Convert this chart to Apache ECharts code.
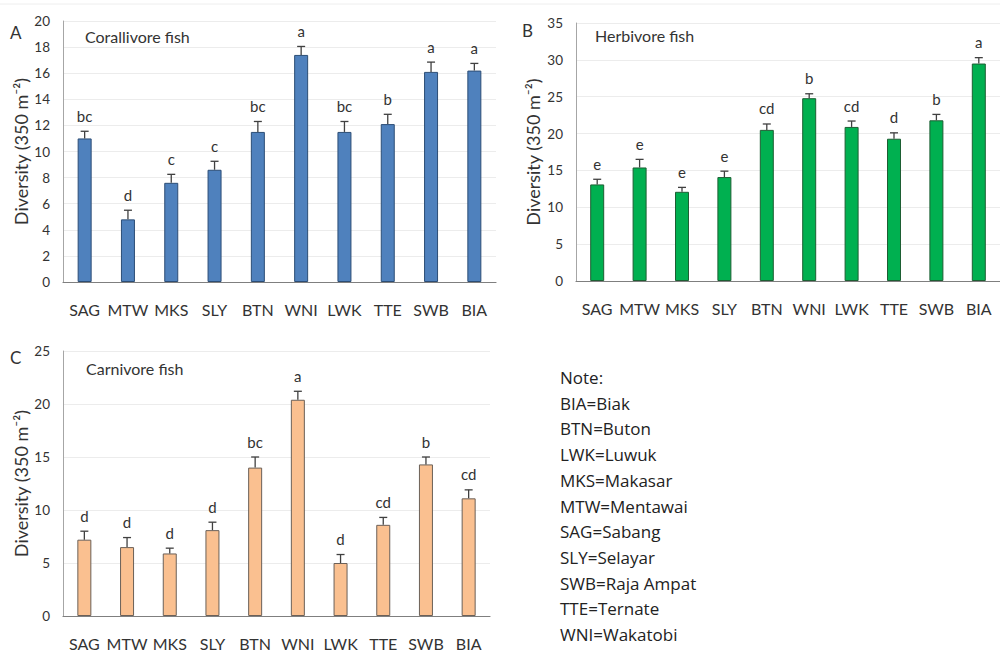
<!DOCTYPE html>
<html>
<head>
<meta charset="utf-8">
<script src="https://cdn.jsdelivr.net/npm/echarts@6/dist/echarts.min.js"></script>
<style>
html,body{margin:0;padding:0;background:#fff;}
#chart{width:1000px;height:651px;}
</style>
</head>
<body>
<div id="chart"></div>
<script>
const categories = ['SAG','MTW','MKS','SLY','BTN','WNI','LWK','TTE','SWB','BIA'];

const coralMean = [11.0, 4.8, 7.6, 8.6, 11.5, 17.4, 11.5, 12.1, 16.1, 16.2];
const coralErr  = [0.55, 0.7, 0.65, 0.65, 0.8, 0.65, 0.8, 0.75, 0.75, 0.55];
const coralLetters = ['bc','d','c','c','bc','a','bc','b','a','a'];

const herbMean = [13.1, 15.4, 12.1, 14.1, 20.5, 24.8, 20.9, 19.3, 21.8, 29.5];
const herbErr  = [0.7, 1.1, 0.6, 0.8, 0.8, 0.6, 0.8, 0.8, 0.8, 0.8];
const herbLetters = ['e','e','e','e','cd','b','cd','d','b','a'];

const carnMean = [7.2, 6.5, 5.9, 8.1, 14.0, 20.4, 5.0, 8.6, 14.3, 11.1];
const carnErr  = [0.8, 0.9, 0.5, 0.75, 1.0, 0.8, 0.8, 0.7, 0.7, 0.8];
const carnLetters = ['d','d','d','d','bc','a','d','cd','b','cd'];

const yTicksA = {min:0, max:20, interval:2};
const yTicksB = {min:0, max:35, interval:5};
const yTicksC = {min:0, max:25, interval:5};

const noteLines = ['Note:','BIA=Biak','BTN=Buton','LWK=Luwuk','MKS=Makasar','MTW=Mentawai','SAG=Sabang','SLY=Selayar','SWB=Raja Ampat','TTE=Ternate','WNI=Wakatobi'];

const FONT = 'Lato, "Open Sans", "Noto Sans", sans-serif';
const TXT = '#333';

function xAxisFor(gi){
  return {
    type:'category', gridIndex:gi, data:categories,
    axisLine:{show:true, lineStyle:{color:'#7f7f7f', width:1.2}},
    axisTick:{show:false},
    axisLabel:{color:TXT, fontSize:16, fontFamily:FONT, margin:19, interval:0}
  };
}
function yAxisFor(gi, t, gap){
  return {
    type:'value', gridIndex:gi, min:t.min, max:t.max, interval:t.interval,
    name:'Diversity (350 m\u207B\u00B2)', nameLocation:'middle', nameGap:gap,
    nameTextStyle:{color:TXT, fontSize:18, fontFamily:FONT},
    axisLine:{show:true, lineStyle:{color:'#a6a6a6', width:1}},
    axisTick:{show:false},
    axisLabel:{color:TXT, fontSize:13.5, fontFamily:FONT, margin:13},
    splitLine:{show:true, lineStyle:{color:'#ececec', width:1}}
  };
}
function barSeries(gi, vals, color, border){
  return {
    type:'bar', xAxisIndex:gi, yAxisIndex:gi, data:vals, barWidth:14,
    itemStyle:{color:color, borderColor:border, borderWidth:1},
    z:2
  };
}
function errSeries(gi, vals, errs, letters){
  return {
    type:'custom', xAxisIndex:gi, yAxisIndex:gi, z:3,
    data: vals.map((v,i)=>[i, v, errs[i]]),
    renderItem: function(params, api){
      const i = params.dataIndex;
      const base = api.coord([api.value(0), api.value(1)]);
      const top = api.coord([api.value(0), api.value(1)+api.value(2)]);
      const st = {stroke:'#404040', lineWidth:1.3};
      return {type:'group', children:[
        {type:'line', shape:{x1:base[0], y1:base[1], x2:base[0], y2:top[1]}, style:st},
        {type:'line', shape:{x1:base[0]-4, y1:top[1], x2:base[0]+4, y2:top[1]}, style:st},
        {type:'text', x:base[0], y:top[1]-8, style:{text:letters[i], textAlign:'center', textVerticalAlign:'bottom', fontSize:15, fontFamily:FONT, fill:TXT}}
      ]};
    }
  };
}

const chart = echarts.init(document.getElementById('chart'), null, {renderer:'svg'});

const graphics = [
  {type:'line', shape:{x1:0,y1:4,x2:1000,y2:4}, style:{stroke:'#eeeeee', lineWidth:1}},
  {type:'text', left:10, top:24, style:{text:'A', fontSize:17, fontFamily:FONT, fill:TXT}},
  {type:'text', left:522, top:22, style:{text:'B', fontSize:17, fontFamily:FONT, fill:TXT}},
  {type:'text', left:10, top:349, style:{text:'C', fontSize:17, fontFamily:FONT, fill:TXT}},
  {type:'text', left:85, top:28, style:{text:'Corallivore fish', fontSize:16, fontFamily:FONT, fill:TXT}},
  {type:'text', left:595, top:27, style:{text:'Herbivore fish', fontSize:16, fontFamily:FONT, fill:TXT}},
  {type:'text', left:86, top:360, style:{text:'Carnivore fish', fontSize:16, fontFamily:FONT, fill:TXT}}
];
noteLines.forEach((t, k)=>{
  graphics.push({type:'text', left:560, top:369 + k*25.7, style:{text:t, fontSize:17, fontFamily:'"Open Sans", "Noto Sans", sans-serif', fill:'#222'}});
});

chart.setOption({
  animation:false,
  backgroundColor:'#fff',
  grid:[
    {left:63, top:21, width:433, height:261},
    {left:576, top:23, width:432, height:258},
    {left:63, top:351, width:427, height:265}
  ],
  xAxis:[xAxisFor(0), xAxisFor(1), xAxisFor(2)],
  yAxis:[yAxisFor(0, yTicksA, 32), yAxisFor(1, yTicksB, 34), yAxisFor(2, yTicksC, 32)],
  series:[
    barSeries(0, coralMean, '#4f81bd', '#2c4d75'),
    errSeries(0, coralMean, coralErr, coralLetters),
    barSeries(1, herbMean, '#00b050', '#1d5e33'),
    errSeries(1, herbMean, herbErr, herbLetters),
    barSeries(2, carnMean, '#fac090', '#6b6058'),
    errSeries(2, carnMean, carnErr, carnLetters)
  ],
  graphic: graphics
});
</script>
</body>
</html>
